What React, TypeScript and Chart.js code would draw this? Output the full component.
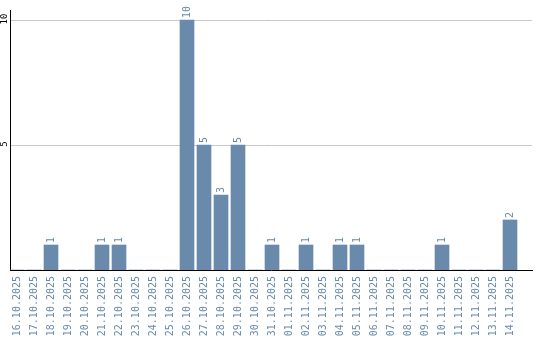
import React, { useEffect, useRef } from "react";
import { Chart, registerables } from "chart.js";

Chart.register(...registerables);

const dates = [
  "16.10.2025", "17.10.2025", "18.10.2025", "19.10.2025", "20.10.2025",
  "21.10.2025", "22.10.2025", "23.10.2025", "24.10.2025", "25.10.2025",
  "26.10.2025", "27.10.2025", "28.10.2025", "29.10.2025", "30.10.2025",
  "31.10.2025", "01.11.2025", "02.11.2025", "03.11.2025", "04.11.2025",
  "05.11.2025", "06.11.2025", "07.11.2025", "08.11.2025", "09.11.2025",
  "10.11.2025", "11.11.2025", "12.11.2025", "13.11.2025", "14.11.2025",
];
const counts = [
  0, 0, 1, 0, 0, 1, 1, 0, 0, 0,
  10, 5, 3, 5, 0, 1, 0, 1, 0, 1,
  1, 0, 0, 0, 0, 1, 0, 0, 0, 2,
];
const yTicks = [5, 10];
const yMax = 10.4;

const BAR = "#6a8aab";
const MONO = '"DejaVu Sans Mono", monospace';

const labelPlugin = {
  id: "labelPlugin",
  afterDatasetsDraw(chart: any) {
    const ctx = chart.ctx;
    const xs = chart.scales.x;
    const ys = chart.scales.y;
    ctx.save();
    ctx.font = `10px ${MONO}`;
    ctx.fillStyle = BAR;
    ctx.textAlign = "left";
    ctx.textBaseline = "middle";
    counts.forEach((v, i) => {
      if (!v) return;
      const x = xs.getPixelForValue(i);
      const y = ys.getPixelForValue(v) - 2;
      ctx.save();
      ctx.translate(x, y);
      ctx.rotate(-Math.PI / 2);
      ctx.fillText(String(v), 0, 0);
      ctx.restore();
    });
    ctx.font = `9px ${MONO}`;
    ctx.fillStyle = "#000";
    ctx.textAlign = "center";
    yTicks.forEach((t) => {
      const y = ys.getPixelForValue(t) - 1;
      ctx.save();
      ctx.translate(5, y);
      ctx.rotate(-Math.PI / 2);
      ctx.fillText(String(t), 0, 0);
      ctx.restore();
    });
    ctx.restore();
  },
};

export default function App() {
  const ref = useRef<HTMLCanvasElement | null>(null);
  useEffect(() => {
    if (!ref.current) return;
    const chart = new Chart(ref.current, {
      type: "bar",
      data: {
        datasets: [
          {
            data: counts.map((v, i) => ({ x: i, y: v })),
            backgroundColor: BAR,
            borderWidth: 0,
            barThickness: 14,
          },
        ],
      },
      options: {
        animation: false,
        responsive: false,
        maintainAspectRatio: false,
        layout: { padding: { top: 10, right: 8, left: 0, bottom: 0 } },
        plugins: { legend: { display: false }, tooltip: { enabled: false } },
        scales: {
          x: {
            type: "linear",
            offset: false,
            min: -0.412,
            max: 30.294,
            grid: { display: false, drawTicks: false, offset: false },
            border: { display: true, color: "#000", width: 1 },
            afterBuildTicks: (s: any) => {
              s.ticks = dates.map((_, i) => ({ value: i }));
            },
            afterFit: (s: any) => {
              s.height = 70;
              s.paddingLeft = 0;
              s.paddingRight = 0;
            },
            ticks: {
              autoSkip: false,
              minRotation: 90,
              maxRotation: 90,
              padding: 6,
              color: BAR,
              font: { family: MONO, size: 10 },
              callback: (v: any) => dates[v] ?? "",
            },
          },
          y: {
            type: "linear",
            min: 0,
            max: yMax,
            grid: { color: "#c8c8c8", drawTicks: false },
            border: { display: true, color: "#000", width: 1 },
            afterBuildTicks: (s: any) => {
              s.ticks = yTicks.map((v) => ({ value: v }));
            },
            afterFit: (s: any) => {
              s.width = 10;
            },
            ticks: { display: false },
          },
        },
      } as any,
      plugins: [labelPlugin],
    });
    return () => chart.destroy();
  }, []);
  return (
    <div style={{ position: "fixed", left: 0, top: 0, width: 540, height: 340 }}>
      <canvas ref={ref} width={540} height={340} style={{ width: 540, height: 340 }} />
    </div>
  );
}
